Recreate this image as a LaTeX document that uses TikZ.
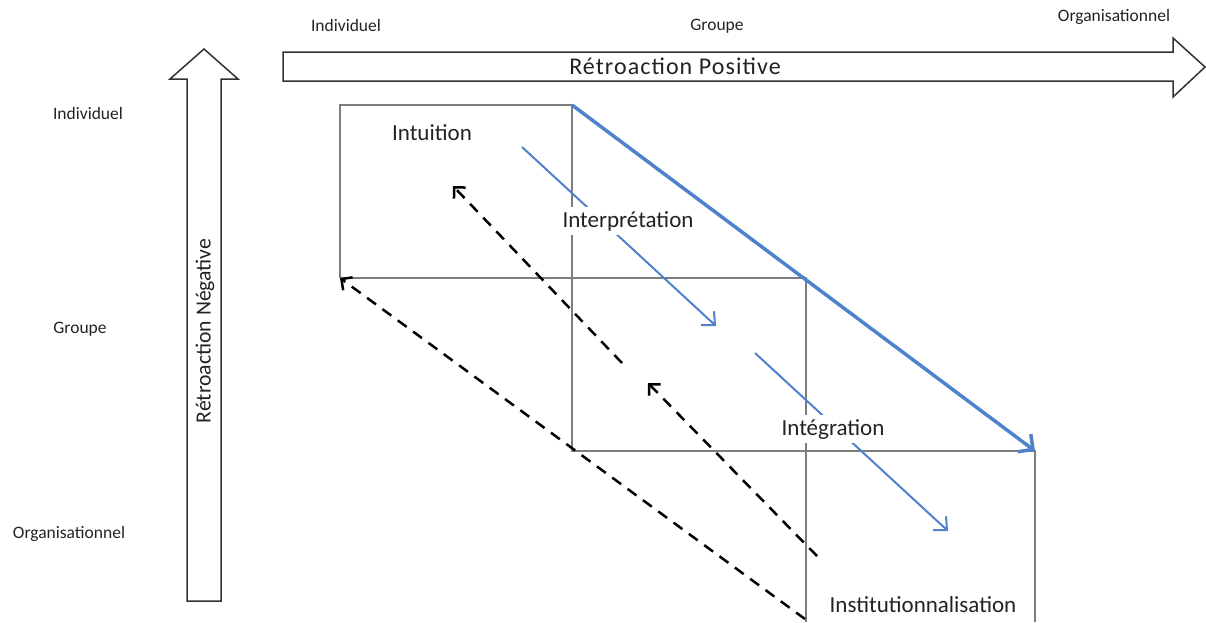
\documentclass[tikz,border=0pt]{standalone}
\usepackage{fontspec}
\setmainfont{Carlito}
\newfontfamily\spacedfont[LetterSpace=4.5]{Carlito}
\usetikzlibrary{arrows.meta}
\definecolor{boxgray}{RGB}{125,125,125}
\definecolor{flowblue}{RGB}{79,129,205}
\definecolor{txt}{RGB}{35,35,35}
\definecolor{outline}{RGB}{50,50,50}
\begin{document}
\begin{tikzpicture}[x=1pt,y=-1pt,
  gridline/.style={draw=boxgray, line width=2pt},
  flow/.style={draw=flowblue, line width=2pt, -{Straight Barb[length=10pt,width=19pt,line width=2pt]}},
  bigflow/.style={draw=flowblue, line width=3.5pt, -{Straight Barb[length=11pt,width=22pt,line width=3.5pt]}},
  backflow/.style={draw=black, line width=2.5pt, dash pattern=on 11pt off 8pt, -{Straight Barb[length=8pt,width=16pt,line width=2.5pt]}},
  blockarrow/.style={draw=outline, line width=1.5pt, fill=white, line join=miter},
  lvl/.style={font=\fontsize{17.5}{20}\selectfont, text=txt, inner sep=0pt},
  stage/.style={font=\fontsize{23}{27}\selectfont, text=txt, inner sep=0pt, anchor=base},
  masked/.style={fill=white, inner xsep=2pt, inner ysep=4pt}
]
\useasboundingbox (0,0) rectangle (1206,622);

% block arrows
\draw[blockarrow] (283,52) -- (1173,52) -- (1173,38) -- (1205,67) -- (1173,97) -- (1173,81) -- (283,81) -- cycle;
\draw[blockarrow] (187,601) -- (187,79) -- (170,79) -- (204,49) -- (238,79) -- (221,79) -- (221,601) -- cycle;
\node[font=\spacedfont\fontsize{24}{28}\selectfont, text=txt, inner sep=0pt, anchor=base] (pos) at (675,74) {Rétroaction Positive};
\node[font=\fontsize{21.7}{26}\selectfont, text=txt, inner sep=0pt, rotate=90] (neg) at (205,331) {Rétroaction Négative};

% level labels
\node[lvl] (tind) at (346,25) {Individuel};
\node[lvl] (tgrp) at (717,26) {Groupe};
\node[lvl] (torg) at (1114,17) {Organisationnel};
\node[lvl] (lind) at (88,113) {Individuel};
\node[lvl] (lgrp) at (80,329) {Groupe};
\node[lvl] (lorg) at (69,534) {Organisationnel};

% grid corners
\coordinate (a1) at (340,105);
\coordinate (a2) at (572,105);
\coordinate (b1) at (340,278);
\coordinate (b2) at (572,278);
\coordinate (b3) at (806,278);
\coordinate (c2) at (572,451);
\coordinate (c3) at (806,451);
\coordinate (c4) at (1035,451);
\coordinate (d3) at (806,622);
\coordinate (d4) at (1035,622);

\draw[gridline] (b1) -- (a1) -- (a2) -- (c2) -- (c4) -- (d4);
\draw[gridline] (b1) -- (b3) -- (d3);

% flows
\coordinate (f1s) at (522,147);
\coordinate (f1e) at (716,326);
\coordinate (f2s) at (755,353);
\coordinate (f2e) at (948,531);
\draw[flow] (f1s) -- (f1e);
\draw[flow] (f2s) -- (f2e);
\draw[bigflow] (a2) -- (c4);

\coordinate (ba) at (805,619);
\coordinate (bb) at (817,556);
\coordinate (bbe) at (648,383);
\coordinate (bc) at (622,363);
\coordinate (bce) at (453,186);
\draw[backflow] (ba) -- (b1);
\draw[backflow] (bb) -- (bbe);
\draw[backflow] (bc) -- (bce);

% stage labels
\node[stage] (intu) at (432,140) {Intuition};
\node[stage, masked] (interp) at (628,227) {Interprétation};
\node[stage, masked] (integ) at (833,435) {Intégration};
\node[stage] (inst) at (923,612) {Institutionnalisation};
\end{tikzpicture}
\end{document}
